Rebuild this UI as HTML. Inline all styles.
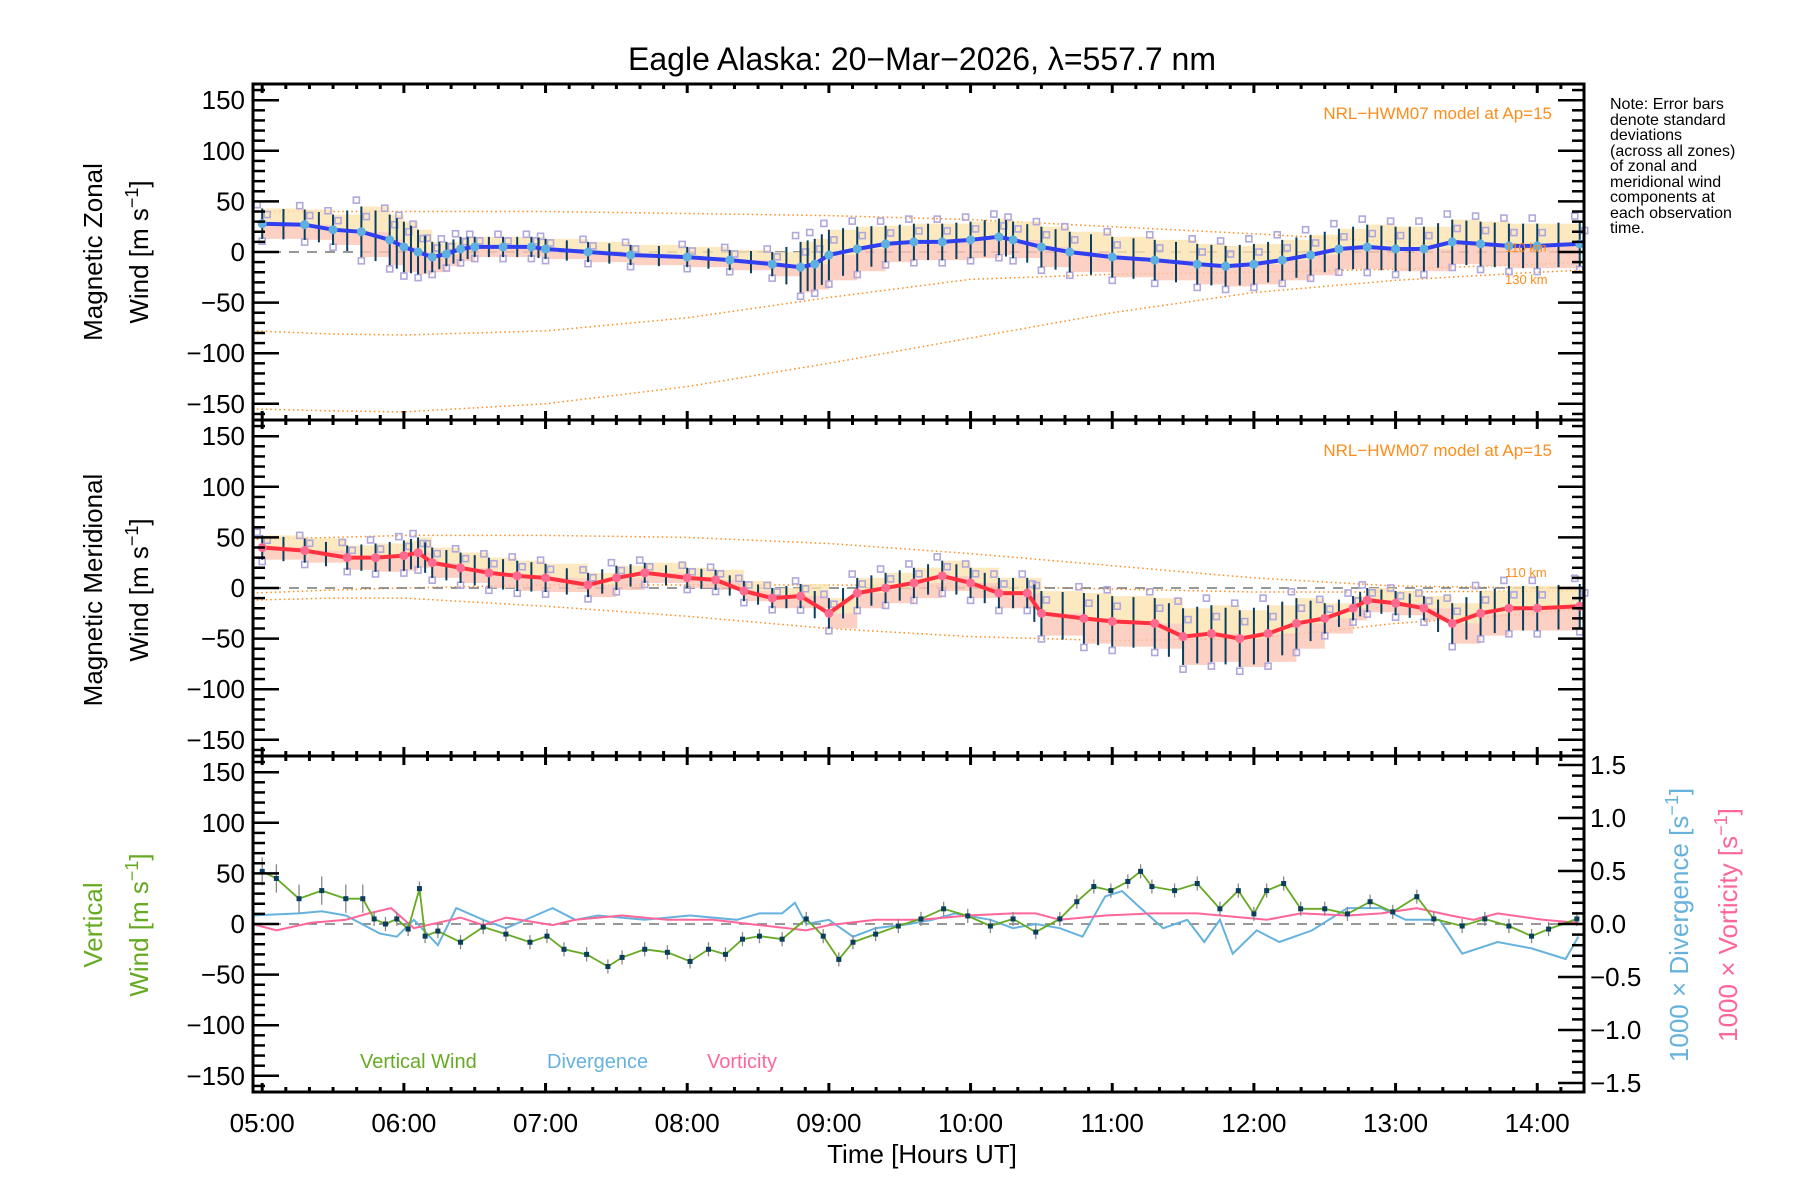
<!DOCTYPE html>
<html><head><meta charset="utf-8"><title>Eagle Alaska winds</title>
<style>
html,body{margin:0;padding:0;background:#fff;}
svg{display:block;font-family:"Liberation Sans",sans-serif;}
</style></head>
<body>
<svg id="chart" width="1800" height="1200" viewBox="0 0 1800 1200" xmlns="http://www.w3.org/2000/svg">
<rect x="0" y="0" width="1800" height="1200" fill="#fff"/>
<text x="922" y="70" font-size="32" text-anchor="middle" fill="#000">Eagle Alaska: 20−Mar−2026, λ=557.7 nm</text>
<g id="layer"></g>
<g font-size="16" fill="#000">
<text x="1610" y="109">Note: Error bars</text>
<text x="1610" y="125">denote standard</text>
<text x="1610" y="140">deviations</text>
<text x="1610" y="156">(across all zones)</text>
<text x="1610" y="171">of zonal and</text>
<text x="1610" y="187">meridional wind</text>
<text x="1610" y="202">components at</text>
<text x="1610" y="218">each observation</text>
<text x="1610" y="233">time.</text>
</g>
<text x="1552" y="119" font-size="17" fill="#ff8c1a" text-anchor="end">NRL−HWM07 model at Ap=15</text>
<text x="1552" y="456" font-size="17" fill="#ff8c1a" text-anchor="end">NRL−HWM07 model at Ap=15</text>
<text x="1505" y="252" font-size="13" fill="#ff8c1a">110 km</text>
<text x="1505" y="284" font-size="13" fill="#ff8c1a">130 km</text>
<text x="1505" y="577" font-size="13" fill="#ff8c1a">110 km</text>
<g font-size="26" fill="#000" text-anchor="middle">
<text transform="translate(102,252) rotate(-90)">Magnetic Zonal</text>
<text transform="translate(148,252) rotate(-90)">Wind [m s<tspan dy="-10" font-size="18">−1</tspan><tspan dy="10">]</tspan></text>
</g>
<g font-size="26" fill="#000" text-anchor="middle">
<text transform="translate(102,590) rotate(-90)">Magnetic Meridional</text>
<text transform="translate(148,590) rotate(-90)">Wind [m s<tspan dy="-10" font-size="18">−1</tspan><tspan dy="10">]</tspan></text>
</g>
<g font-size="26" fill="#66aa22" text-anchor="middle">
<text transform="translate(102,925) rotate(-90)">Vertical</text>
<text transform="translate(148,925) rotate(-90)">Wind [m s<tspan dy="-10" font-size="18">−1</tspan><tspan dy="10">]</tspan></text>
</g>
<text transform="translate(1688,925) rotate(-90)" font-size="26" fill="#66b2dd" text-anchor="middle">1000 × Divergence [s<tspan dy="-10" font-size="18">−1</tspan><tspan dy="10">]</tspan></text>
<text transform="translate(1737,925) rotate(-90)" font-size="26" fill="#ff6699" text-anchor="middle">1000 × Vorticity [s<tspan dy="-10" font-size="18">−1</tspan><tspan dy="10">]</tspan></text>
<text x="360" y="1068" font-size="20" fill="#66aa22">Vertical Wind</text>
<text x="547" y="1068" font-size="20" fill="#66b2dd">Divergence</text>
<text x="707" y="1068" font-size="20" fill="#ff6699">Vorticity</text>
<text x="922" y="1163" font-size="26" text-anchor="middle" fill="#000">Time [Hours UT]</text>
</svg>
<script>
// ---- data ----
const xTickLabels = ["05:00","06:00","07:00","08:00","09:00","10:00","11:00","12:00","13:00","14:00"];
const xTickHours = [5,6,7,8,9,10,11,12,13,14];
const yTickValues = [150,100,50,0,-50,-100,-150];
const rightTickValues = [1.5,1.0,0.5,0.0,-0.5,-1.0,-1.5];

const zonalHours = [5.0,5.3,5.5,5.7,5.9,6.0,6.1,6.2,6.3,6.4,6.5,6.7,6.9,7.0,7.3,7.6,8.0,8.3,8.6,8.8,8.9,9.0,9.2,9.4,9.6,9.8,10.0,10.2,10.3,10.5,10.7,11.0,11.3,11.6,11.8,12.0,12.2,12.4,12.6,12.8,13.0,13.2,13.4,13.6,13.8,14.0,14.3];
const zonalWind = [28,27,22,20,12,5,0,-5,-2,3,5,5,5,3,0,-3,-5,-8,-12,-15,-12,-3,3,8,10,10,12,15,12,5,0,-5,-8,-12,-14,-12,-8,-3,3,5,3,3,10,8,6,6,8];
const zonalErr = [15,15,15,25,25,25,22,15,12,12,10,10,10,10,10,10,10,10,12,25,25,25,22,18,18,18,18,18,18,20,20,20,20,20,20,20,20,20,20,22,22,22,22,22,22,22,22];

const meridHours = [5.0,5.3,5.6,5.8,6.0,6.1,6.2,6.4,6.6,6.8,7.0,7.3,7.5,7.7,8.0,8.2,8.4,8.6,8.8,9.0,9.2,9.4,9.6,9.8,10.0,10.2,10.4,10.5,10.8,11.0,11.3,11.5,11.7,11.9,12.1,12.3,12.5,12.7,12.8,13.0,13.2,13.4,13.6,13.8,14.0,14.3];
const meridWind = [40,37,30,30,32,35,25,20,15,12,10,3,10,15,10,8,-3,-10,-8,-25,-5,0,5,12,5,-5,-5,-25,-30,-33,-35,-48,-45,-50,-45,-35,-30,-20,-12,-15,-20,-35,-25,-20,-20,-18];
const meridErr = [12,12,12,14,15,15,15,15,15,15,14,12,12,10,10,10,10,10,12,15,15,15,15,15,15,15,15,22,25,25,25,28,28,28,28,25,15,12,12,12,12,20,22,22,22,22];

const vertHours = [5.0,5.1,5.26,5.42,5.59,5.71,5.79,5.87,5.95,6.03,6.11,6.15,6.24,6.4,6.56,6.72,6.89,7.01,7.13,7.29,7.44,7.54,7.7,7.86,8.02,8.15,8.27,8.39,8.51,8.67,8.84,8.96,9.07,9.17,9.33,9.49,9.65,9.81,9.98,10.14,10.3,10.46,10.63,10.75,10.87,10.99,11.11,11.2,11.28,11.44,11.6,11.76,11.89,12.0,12.09,12.21,12.33,12.5,12.66,12.82,12.98,13.15,13.27,13.47,13.63,13.8,13.96,14.08,14.28];
const vertWind = [52,45,25,33,25,25,5,0,5,-5,35,-12,-7,-18,-3,-10,-18,-12,-25,-30,-42,-33,-25,-28,-37,-25,-30,-15,-12,-15,5,-12,-35,-18,-10,-2,5,15,8,-2,5,-8,5,22,37,33,42,52,37,33,40,15,33,10,33,40,15,15,10,22,12,27,5,-2,5,-2,-12,-5,5];

const divHours = [4.93,5.26,5.42,5.59,5.83,5.95,6.07,6.24,6.37,6.56,6.72,7.05,7.21,7.37,7.7,8.02,8.35,8.51,8.67,8.76,8.84,9.0,9.17,9.33,9.57,9.73,9.89,10.14,10.3,10.46,10.63,10.79,10.95,11.07,11.2,11.36,11.53,11.65,11.76,11.85,12.02,12.18,12.41,12.66,12.9,13.07,13.31,13.47,13.72,13.96,14.2,14.29];
const divergence = [0.08,0.10,0.12,0.08,-0.09,-0.12,0.04,-0.20,0.15,0.04,-0.04,0.15,0.04,0.08,0.04,0.08,0.04,0.10,0.10,0.20,0.0,0.04,-0.12,-0.04,0.0,0.04,0.10,0.04,-0.04,0.0,-0.04,-0.12,0.26,0.31,0.15,-0.04,0.04,-0.17,0.04,-0.28,-0.06,-0.17,-0.06,0.15,0.15,0.04,0.04,-0.28,-0.17,-0.23,-0.33,-0.12];
const vortHours = [4.93,5.1,5.34,5.59,5.75,5.91,6.07,6.4,6.56,6.72,7.05,7.21,7.54,7.86,8.18,8.51,8.84,9.0,9.33,9.65,9.98,10.3,10.46,10.63,10.95,11.28,11.6,11.85,12.09,12.33,12.66,12.9,13.15,13.39,13.55,13.72,14.04,14.29];
const vorticity = [0.0,-0.06,0.01,0.04,0.10,0.15,-0.04,0.06,-0.01,0.06,-0.01,0.04,0.08,0.04,0.04,-0.01,-0.06,-0.01,0.04,0.04,0.08,0.10,0.10,0.04,0.08,0.10,0.10,0.07,0.04,0.10,0.08,0.10,0.15,0.08,0.04,0.10,0.04,0.01];

const modelZonalHours = [4.93,5.5,6.0,7.0,8.0,9.0,10.0,11.0,12.0,13.0,14.0,14.33];
const modelZonal110 = [40,40,40,40,38,36,32,25,18,10,3,0];
const modelZonal120 = [-78,-81,-82,-78,-65,-45,-27,-22,-20,-17,-12,-10];
const modelZonal130 = [-155,-157,-158,-150,-133,-110,-85,-60,-40,-28,-20,-18];
const modelMeridHours = [4.93,5.5,6.0,7.0,8.0,9.0,10.0,11.0,12.0,13.0,14.0,14.33];
const modelMerid110 = [48,50,52,52,50,44,34,22,10,2,0,0];
const modelMerid120 = [-5,-2,0,3,3,3,2,-1,-4,-4,-3,-3];
const modelMerid130 = [-12,-10,-10,-18,-28,-40,-48,-52,-50,-35,-25,-20];

// ---- layout ----
const L=253, R=1584, XMIN=4.935, XMAX=14.33;
const panels=[{top:84,bot:420},{top:420,bot:756},{top:756,bot:1092}];
const YR=166, RR=1.585;
const NS='http://www.w3.org/2000/svg';
const layer=document.getElementById('layer');
function xs(h){return L+(h-XMIN)/(XMAX-XMIN)*(R-L);}
function ys(p,v){const P=panels[p];const c=(P.top+P.bot)/2;return c - v/YR*((P.bot-P.top)/2);}
function yr(v){const P=panels[2];const c=(P.top+P.bot)/2;return c - v/RR*((P.bot-P.top)/2);}
function mk(tag,attrs,parent){const e=document.createElementNS(NS,tag);for(const k in attrs)e.setAttribute(k,attrs[k]);(parent||layer).appendChild(e);return e;}
function pts(hs,vs,f){return hs.map((h,i)=>xs(h).toFixed(1)+','+f(vs[i]).toFixed(1)).join(' ');}

function windPanel(p,hours,vals,errs,lineCol,dotCol,mh,m1,m2,m3,name){
  const g=mk('g',{});
  
  
  [m1,m2,m3].forEach((m,k)=>{
    const pl=mk('polyline',{points:pts(mh,m,v=>ys(p,v)),fill:'none',stroke:'#ff8c1a','stroke-width':1.5,'stroke-dasharray':'1.5 3'},g);
    
    
  });
  const z=mk('line',{x1:L,x2:R,y1:ys(p,0),y2:ys(p,0),stroke:'#777','stroke-width':1.5,'stroke-dasharray':'10 8'},g);
  
  
  for(let i=0;i<hours.length-1;i++){
    const x0=xs(hours[i]),x1=xs(hours[i+1]);
    const v=vals[i],e=errs[i];
    const b1=mk('rect',{x:x0,y:ys(p,v+e),width:Math.max(1,x1-x0),height:ys(p,v)-ys(p,v+e),fill:'#fde3b0',opacity:0.8},g);
    
    
    const b2=mk('rect',{x:x0,y:ys(p,v),width:Math.max(1,x1-x0),height:ys(p,v-e)-ys(p,v),fill:'#fbc4b4',opacity:0.8},g);
    
    
  }
  hours.forEach((h,i)=>{
    [1.25,-1.15,0.6].forEach((f,k)=>{
      const s=mk('rect',{x:xs(h)+(k-1)*5-3,y:ys(p,vals[i]+f*errs[i])-3,width:6,height:6,fill:'none',stroke:'#b0a8dc','stroke-width':1.6},g);
      
      
    });
  });
  hours.forEach((h,i)=>{
    const eb=mk('line',{x1:xs(h),x2:xs(h),y1:ys(p,vals[i]+errs[i]),y2:ys(p,vals[i]-errs[i]),stroke:'#0b3d5c','stroke-width':2},g);
    
    
    if(i<hours.length-1){
      const hm=(h+hours[i+1])/2, vm=(vals[i]+vals[i+1])/2, em=(errs[i]+errs[i+1])/2;
      const eb2=mk('line',{x1:xs(hm),x2:xs(hm),y1:ys(p,vm+em),y2:ys(p,vm-em),stroke:'#0b3d5c','stroke-width':2},g);
      
      
    }
  });
  const ln=mk('polyline',{points:pts(hours,vals,v=>ys(p,v)),fill:'none',stroke:lineCol,'stroke-width':4},g);
  
  
  hours.forEach((h,i)=>{
    const c=mk('circle',{cx:xs(h),cy:ys(p,vals[i]),r:4.5,fill:dotCol},g);
    
    
  });
}
windPanel(0,zonalHours,zonalWind,zonalErr,'#3040f0','#5eb0e0',modelZonalHours,modelZonal110,modelZonal120,modelZonal130,'zonal');
windPanel(1,meridHours,meridWind,meridErr,'#ff3040','#ff6a90',modelMeridHours,modelMerid110,modelMerid120,modelMerid130,'meridional');

(function(){
  const g=mk('g',{});
  
  
  const z=mk('line',{x1:L,x2:R,y1:ys(2,0),y2:ys(2,0),stroke:'#777','stroke-width':1.5,'stroke-dasharray':'10 8'},g);
  
  
  const d=mk('polyline',{points:pts(divHours,divergence,yr),fill:'none',stroke:'#66b2dd','stroke-width':2},g);
  
  
  const vo=mk('polyline',{points:pts(vortHours,vorticity,yr),fill:'none',stroke:'#ff6699','stroke-width':2},g);
  
  
  vertHours.forEach((h,i)=>{
    const e=(i<6)?14:7;
    const eb=mk('line',{x1:xs(h),x2:xs(h),y1:ys(2,vertWind[i]+e),y2:ys(2,vertWind[i]-e),stroke:'#888','stroke-width':1.3},g);
    
    
  });
  const vw=mk('polyline',{points:pts(vertHours,vertWind,v=>ys(2,v)),fill:'none',stroke:'#66aa22','stroke-width':1.8},g);
  
  
  vertHours.forEach((h,i)=>{
    const c=mk('rect',{x:xs(h)-2.5,y:ys(2,vertWind[i])-2.5,width:5,height:5,fill:'#0b3d5c'},g);
    
    
  });
})();

(function(){
  const g=mk('g',{});
  
  
  panels.forEach((P,p)=>{
    const fr=mk('rect',{x:L,y:P.top,width:R-L,height:P.bot-P.top,fill:'none',stroke:'#000','stroke-width':3},g);
    
    
    for(let v=-160;v<=160;v+=10){
      const major=(v%50===0), y=ys(p,v);
      const len=major?26:12;
      mk('line',{x1:L,x2:L+len,y1:y,y2:y,stroke:'#000','stroke-width':2.5},g);
      if(p<2) mk('line',{x1:R,x2:R-len,y1:y,y2:y,stroke:'#000','stroke-width':2.5},g);
    }
    yTickValues.forEach(v=>{
      const t=mk('text',{x:L-8,y:ys(p,v)+9,'font-size':26,'text-anchor':'end',fill:'#000'},g);
      t.textContent=(v<0?'−'+(-v):String(v));
      
      
    });
    for(let m=0;m*10/60+5<=XMAX;m++){
      const h=5+m/6; if(h<XMIN) continue;
      const major=(m%6===0), x=xs(h), len=major?9:5;
      mk('line',{x1:x,x2:x,y1:P.bot,y2:P.bot-len,stroke:'#000','stroke-width':3},g);
      mk('line',{x1:x,x2:x,y1:P.top,y2:P.top+len,stroke:'#000','stroke-width':3},g);
    }
  });
  for(let v=-1.5;v<=1.501;v+=0.1){
    const y=yr(v), major=Math.abs(Math.round(v*10)%5)===0, len=major?26:12;
    mk('line',{x1:R,x2:R-len,y1:y,y2:y,stroke:'#000','stroke-width':2.5},g);
  }
  rightTickValues.forEach(v=>{
    const t=mk('text',{x:R+6,y:yr(v)+9,'font-size':26,fill:'#000'},g);
    t.textContent=(v<0?'−'+(-v).toFixed(1):v.toFixed(1));
    
    
  });
  xTickLabels.forEach((lab,i)=>{
    const t=mk('text',{x:xs(xTickHours[i]),y:1132,'font-size':26,'text-anchor':'middle',fill:'#000'},g);
    t.textContent=lab;
    
    
  });
})();
</script>
</body></html>
